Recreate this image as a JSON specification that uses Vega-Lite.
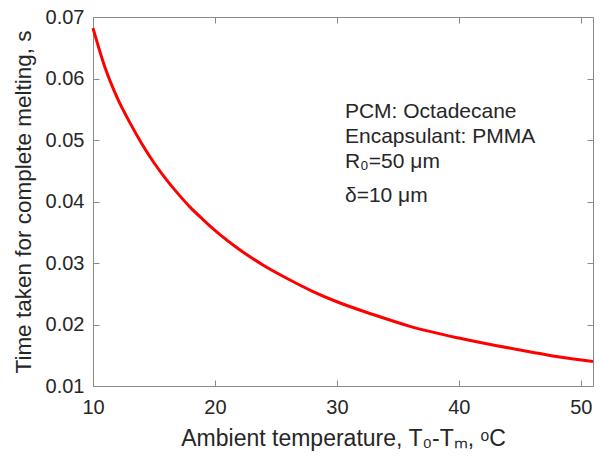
{
  "$schema": "https://vega.github.io/schema/vega-lite/v6.json",
  "width": 500,
  "height": 369,
  "autosize": {"type": "none"},
  "padding": {"left": 93, "top": 17, "right": 9, "bottom": 72},
  "background": "white",
  "config": {
    "view": {"stroke": null},
    "font": "Liberation Sans",
    "axis": {
      "grid": false,
      "domainColor": "#8a8a8a",
      "tickColor": "#8a8a8a",
      "labelColor": "#262626",
      "titleColor": "#262626",
      "labelFont": "Liberation Sans",
      "titleFont": "Liberation Sans",
      "labelFontSize": 20,
      "titleFontSize": 22.5,
      "titleFontWeight": "normal",
      "tickSize": -6
    }
  },
  "datasets": {
    "curve": [
      {"T": 10, "t": 0.0682},
      {"T": 11, "t": 0.0617},
      {"T": 12, "t": 0.0568},
      {"T": 13, "t": 0.0529},
      {"T": 14, "t": 0.0494},
      {"T": 15, "t": 0.0463},
      {"T": 16, "t": 0.0436},
      {"T": 17, "t": 0.0412},
      {"T": 18, "t": 0.0390},
      {"T": 19, "t": 0.0371},
      {"T": 20, "t": 0.0353},
      {"T": 22, "t": 0.0322},
      {"T": 24, "t": 0.0296},
      {"T": 26, "t": 0.0274},
      {"T": 28, "t": 0.0254},
      {"T": 30, "t": 0.0237},
      {"T": 33, "t": 0.0216},
      {"T": 36, "t": 0.0197},
      {"T": 40, "t": 0.0178},
      {"T": 43, "t": 0.0166},
      {"T": 46, "t": 0.0155},
      {"T": 48, "t": 0.0148},
      {"T": 51, "t": 0.0140}
    ],
    "one": [{"k": 1}]
  },
  "layer": [
    {
      "data": {"name": "curve"},
      "mark": {"type": "line", "color": "#ff0000", "strokeWidth": 3, "interpolate": "monotone"},
      "encoding": {
        "x": {
          "field": "T", "type": "quantitative",
          "scale": {"domain": [10, 51], "nice": false, "zero": false},
          "axis": {"orient": "bottom", "values": [10, 20, 30, 40, 50], "labelPadding": 17, "titlePadding": 10,
                   "title": "Ambient temperature, T₀-Tₘ, ᵒC", "titleFontSize": 23, "labelFlush": false}
        },
        "y": {
          "field": "t", "type": "quantitative",
          "scale": {"domain": [0.01, 0.07], "nice": false, "zero": false},
          "axis": {"orient": "left", "values": [0.01, 0.02, 0.03, 0.04, 0.05, 0.06, 0.07], "format": ".2f",
                   "labelPadding": 15, "titlePadding": 10, "title": "Time taken for complete melting, s", "labelFlush": false}
        }
      }
    },
    {
      "data": {"name": "curve"},
      "mark": {"type": "line", "opacity": 0},
      "encoding": {
        "x": {"field": "T", "type": "quantitative",
              "axis": {"orient": "top", "values": [10, 20, 30, 40, 50], "labels": false, "title": null}},
        "y": {"field": "t", "type": "quantitative",
              "axis": {"orient": "right", "values": [0.01, 0.02, 0.03, 0.04, 0.05, 0.06, 0.07], "labels": false, "title": null}}
      }
    },
    {
      "data": {"name": "one"},
      "mark": {"type": "text", "align": "left", "baseline": "alphabetic", "fontSize": 21, "color": "#262626", "font": "Liberation Sans"},
      "encoding": {"x": {"datum": 30.66, "axis": null}, "y": {"datum": 0.0536, "axis": null}, "text": {"value": "PCM: Octadecane"}}
    },
    {
      "data": {"name": "one"},
      "mark": {"type": "text", "align": "left", "baseline": "alphabetic", "fontSize": 21, "color": "#262626", "font": "Liberation Sans"},
      "encoding": {"x": {"datum": 30.66, "axis": null}, "y": {"datum": 0.0495, "axis": null}, "text": {"value": "Encapsulant: PMMA"}}
    },
    {
      "data": {"name": "one"},
      "mark": {"type": "text", "align": "left", "baseline": "alphabetic", "fontSize": 21, "color": "#262626", "font": "Liberation Sans"},
      "encoding": {"x": {"datum": 30.66, "axis": null}, "y": {"datum": 0.04545, "axis": null}, "text": {"value": "R₀=50 μm"}}
    },
    {
      "data": {"name": "one"},
      "mark": {"type": "text", "align": "left", "baseline": "alphabetic", "fontSize": 21, "color": "#262626", "font": "Liberation Sans"},
      "encoding": {"x": {"datum": 30.66, "axis": null}, "y": {"datum": 0.0399, "axis": null}, "text": {"value": "δ=10 μm"}}
    }
  ],
  "resolve": {"axis": {"x": "independent", "y": "independent"}}
}
